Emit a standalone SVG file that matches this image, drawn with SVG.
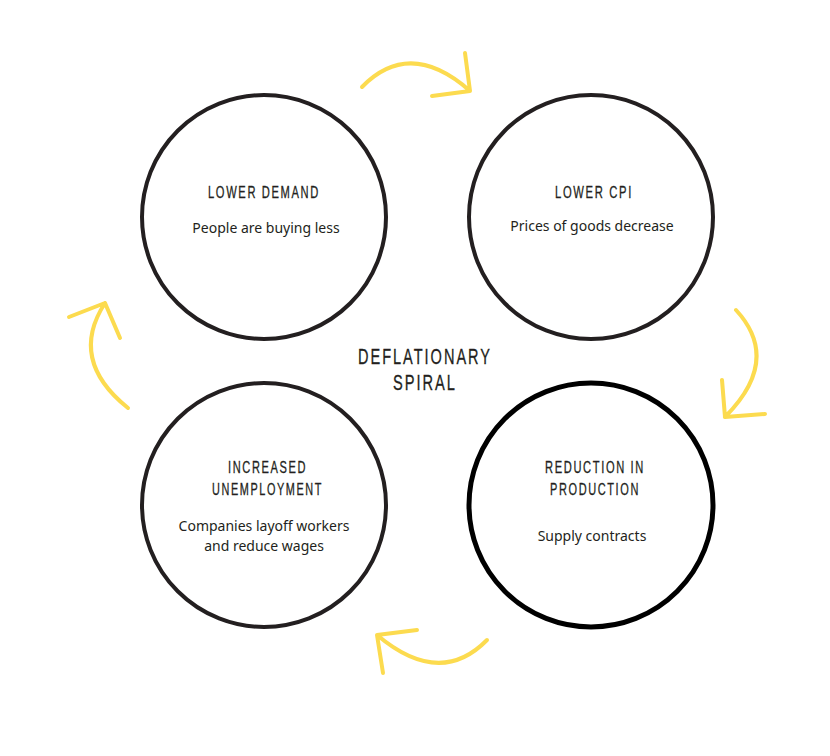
<svg xmlns="http://www.w3.org/2000/svg" width="830" height="756" viewBox="0 0 830 756">
<style>
.c{fill:none;stroke:#231f20;stroke-width:4}
.h{font-family:"Liberation Sans","Arimo",sans-serif;font-size:17px;letter-spacing:2.5px;fill:#231f20;text-anchor:middle;stroke:#231f20;stroke-width:0.3}
.d{font-size:22px;letter-spacing:3px}
.t{font-family:"Noto Sans","Open Sans",sans-serif;font-size:14px;fill:#231f20;text-anchor:middle}
.a{fill:none;stroke:#fcdb4f;stroke-width:4;stroke-linecap:round;stroke-linejoin:round}
</style>
<rect width="830" height="756" fill="#fff"/>
<g id="lower-demand">
<circle class="c" cx="264" cy="217" r="122"/>
<text class="h" x="264" y="198" textLength="112" lengthAdjust="spacingAndGlyphs">LOWER DEMAND</text>
<text class="t" x="266" y="233">People are buying less</text>
</g>
<g id="lower-cpi">
<circle class="c" cx="591" cy="217" r="122"/>
<text class="h" x="594" y="198" textLength="78" lengthAdjust="spacingAndGlyphs">LOWER CPI</text>
<text class="t" x="592" y="231">Prices of goods decrease</text>
</g>
<g id="reduction">
<circle class="c" cx="591" cy="505" r="122" style="stroke:#000;stroke-width:5"/>
<text class="h" x="595" y="473" textLength="100" lengthAdjust="spacingAndGlyphs">REDUCTION IN</text>
<text class="h" x="595" y="495" textLength="90" lengthAdjust="spacingAndGlyphs">PRODUCTION</text>
<text class="t" x="592" y="541">Supply contracts</text>
</g>
<g id="unemployment">
<circle class="c" cx="264" cy="505" r="122"/>
<text class="h" x="267.5" y="473" textLength="79" lengthAdjust="spacingAndGlyphs">INCREASED</text>
<text class="h" x="267.5" y="495" textLength="111" lengthAdjust="spacingAndGlyphs">UNEMPLOYMENT</text>
<text class="t" x="264" y="531">Companies layoff workers</text>
<text class="t" x="264" y="551">and reduce wages</text>
</g>
<g id="center">
<text class="h d" x="425" y="364" textLength="134" lengthAdjust="spacingAndGlyphs">DEFLATIONARY</text>
<text class="h d" x="425" y="390" textLength="64" lengthAdjust="spacingAndGlyphs">SPIRAL</text>
</g>
<g id="connectors">
<path class="a" d="M362,87 Q410,38 470,91 M465,53 L470,91 L432,96"/>
<path class="a" d="M736,310 Q782,360 725,417 M722,380 L725,417 L765,414"/>
<path class="a" d="M487,640 Q440,688 377,635 M417,630 L377,635 L383,673"/>
<path class="a" d="M128,408 Q68,360 105,303 M69,317 L105,303 L120,338"/>
</g>
</svg>
